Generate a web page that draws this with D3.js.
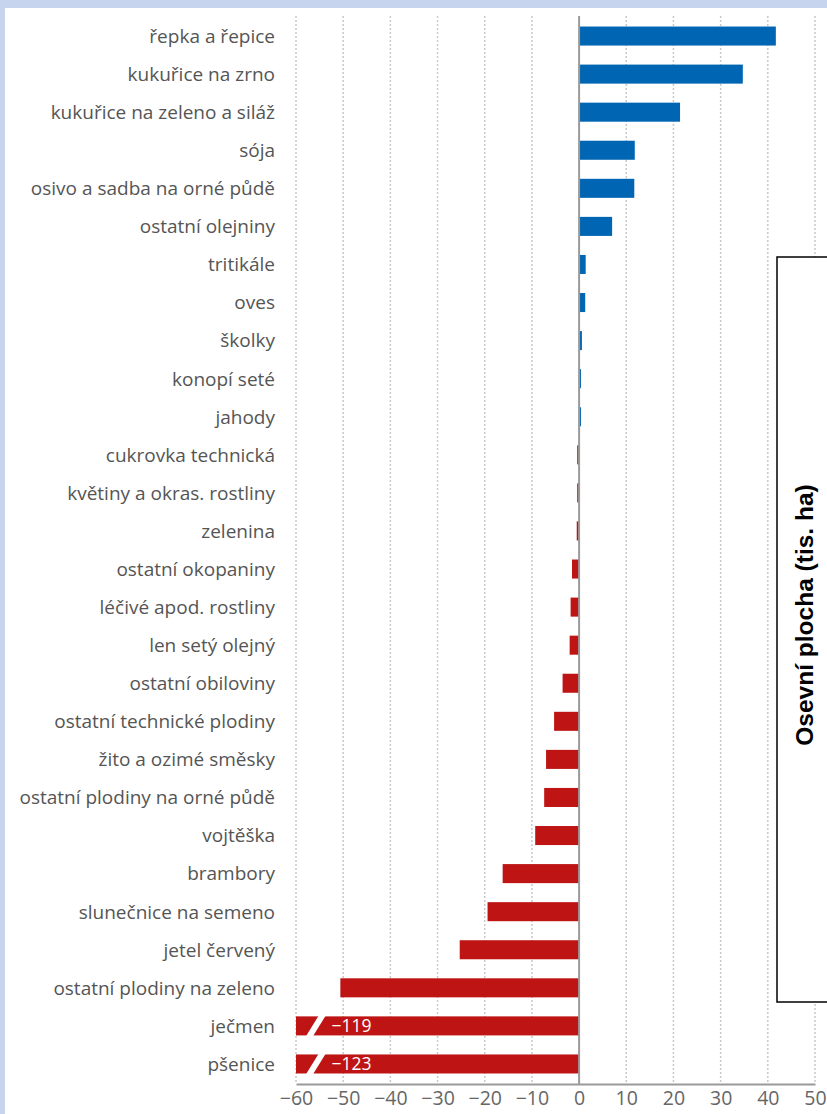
<!DOCTYPE html>
<html>
<head>
<meta charset="utf-8">
<script src="https://cdn.jsdelivr.net/npm/d3@7.9.0/dist/d3.min.js"></script>
<style>
  html, body { margin: 0; padding: 0; background: #c6d4ee; }
  svg { display: block; }
</style>
</head>
<body>
<svg id="chart" width="827" height="1114"></svg>
<script>
// plodiny (shora dolů)
const crops = [
  'řepka a řepice', 'kukuřice na zrno', 'kukuřice na zeleno a siláž', 'sója',
  'osivo a sadba na orné půdě', 'ostatní olejniny', 'tritikále', 'oves',
  'školky', 'konopí seté', 'jahody', 'cukrovka technická',
  'květiny a okras. rostliny', 'zelenina', 'ostatní okopaniny',
  'léčivé apod. rostliny', 'len setý olejný', 'ostatní obiloviny',
  'ostatní technické plodiny', 'žito a ozimé směsky',
  'ostatní plodiny na orné půdě', 'vojtěška', 'brambory',
  'slunečnice na semeno', 'jetel červený', 'ostatní plodiny na zeleno',
  'ječmen', 'pšenice'
];
// změna osevní plochy (tis. ha)
const change = [
  41.7, 34.7, 21.4, 11.8, 11.7, 7.0, 1.4, 1.3,
  0.6, 0.4, 0.4, -0.4, -0.4, -0.5, -1.5,
  -1.8, -2.0, -3.5, -5.3, -7.0,
  -7.4, -9.3, -16.2, -19.4, -25.3, -50.6,
  -119, -123
];
const xTicks = [-60, -50, -40, -30, -20, -10, 0, 10, 20, 30, 40, 50];
const axisTitle = 'Osevní plocha (tis. ha)';

const data = crops.map((c, i) => ({ crop: c, value: change[i] }));

const svg = d3.select('#chart');
// bílá plocha
svg.append('rect').attr('x', 5).attr('y', 8).attr('width', 822).attr('height', 1106).attr('fill', '#fff');

const x = d3.scaleLinear().domain([-60, 50]).range([296, 815]);
const y = d3.scaleBand().domain(crops).range([17, 1083]).paddingInner(0.5).paddingOuter(0.25);
const axisY = 1084;

// mřížka
svg.append('g').selectAll('line')
  .data(xTicks.filter(t => t !== 0))
  .join('line')
    .attr('x1', d => x(d)).attr('x2', d => x(d))
    .attr('y1', 16).attr('y2', axisY)
    .attr('stroke', '#c8c8c8').attr('stroke-width', 1.5)
    .attr('stroke-dasharray', '2,2');

// sloupce (useknuté na -60)
const clip = v => Math.max(v, -60);
const barGroup = svg.append('g');
barGroup.selectAll('rect')
  .data(data)
  .join('rect')
    .attr('x', d => Math.min(x(clip(d.value)), x(0)))
    .attr('width', d => Math.abs(x(clip(d.value)) - x(0)))
    .attr('y', d => y(d.crop))
    .attr('height', y.bandwidth())
    .attr('fill', d => d.value >= 0 ? '#0066b3' : '#be1414');

// přerušení dlouhých sloupců
const cut = data.filter(d => d.value < -60);
barGroup.selectAll('path.cut')
  .data(cut)
  .join('path')
    .attr('class', 'cut')
    .attr('fill', '#fff')
    .attr('d', d => {
      const cx = x(-55.8), t = y(d.crop) - 1, b = y(d.crop) + y.bandwidth() + 1;
      return `M${cx - 10},${b} L${cx - 3},${b} L${cx + 10},${t} L${cx + 3},${t} Z`;
    });
barGroup.selectAll('text.val')
  .data(cut)
  .join('text')
    .attr('class', 'val')
    .attr('x', x(-52.5))
    .attr('y', d => y(d.crop) + y.bandwidth() / 2)
    .attr('dy', '0.36em')
    .attr('fill', '#fff')
    .attr('font-family', 'Open Sans, sans-serif')
    .attr('font-size', 17.5)
    .text(d => d3.format('d')(d.value));

// nulová osa
svg.append('line')
  .attr('x1', x(0)).attr('x2', x(0))
  .attr('y1', 16).attr('y2', axisY)
  .attr('stroke', '#9a9a9a').attr('stroke-width', 2);

// popisky plodin
svg.append('g').selectAll('text')
  .data(data)
  .join('text')
    .attr('x', 275)
    .attr('y', d => y(d.crop) + y.bandwidth() / 2)
    .attr('dy', '0.36em')
    .attr('text-anchor', 'end')
    .attr('fill', '#555')
    .attr('font-family', 'Open Sans, sans-serif')
    .attr('font-size', 19)
    .text(d => d.crop);

// osa x
const xAxis = d3.axisBottom(x).tickValues(xTicks).tickSize(0).tickPadding(7);
const gx = svg.append('g').attr('transform', `translate(0,${axisY})`).call(xAxis);
gx.select('.domain').attr('stroke', '#9a9a9a').attr('stroke-width', 2);
gx.selectAll('text')
  .attr('fill', '#666')
  .attr('font-family', 'Open Sans, sans-serif')
  .attr('font-size', 19.5);

// rámeček s názvem osy
svg.append('rect')
  .attr('x', 777).attr('y', 257)
  .attr('width', 70).attr('height', 745)
  .attr('fill', '#fff').attr('stroke', '#000').attr('stroke-width', 1.5);
svg.append('text')
  .attr('transform', 'translate(804,615) rotate(-90)')
  .attr('text-anchor', 'middle')
  .attr('dy', '0.35em')
  .attr('font-family', 'Liberation Sans, Arial, sans-serif')
  .attr('font-weight', 'bold')
  .attr('font-size', 24.5)
  .attr('fill', '#000')
  .text(axisTitle);
</script>
</body>
</html>
